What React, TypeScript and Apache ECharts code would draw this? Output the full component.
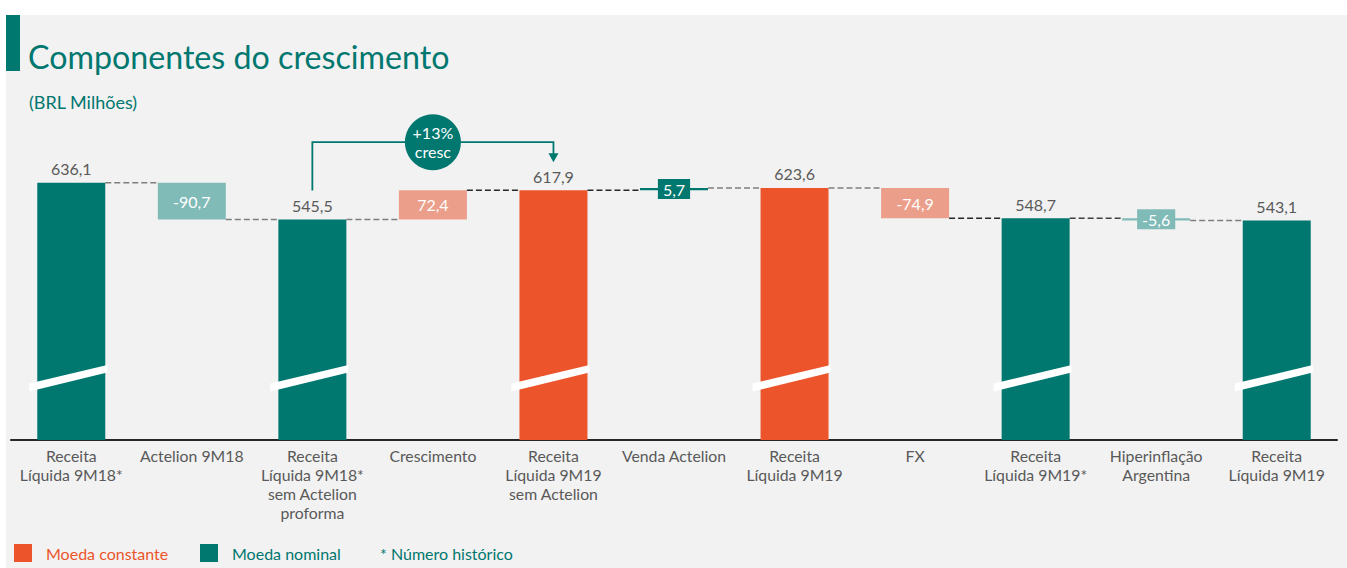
import React, { useEffect, useRef } from "react";
import * as echarts from "echarts";

const TEAL = "#00776F";
const ORANGE = "#EC552B";
const LIGHT_TEAL = "#80BBB7";
const LIGHT_ORANGE = "#EB9E89";
const GRAY_TEXT = "#595959";
const FONT = 'Lato, "Open Sans", sans-serif';

const categories = [
  "Receita\nLíquida 9M18*",
  "Actelion 9M18",
  "Receita\nLíquida 9M18*\nsem Actelion\nproforma",
  "Crescimento",
  "Receita\nLíquida 9M19\nsem Actelion",
  "Venda Actelion",
  "Receita\nLíquida 9M19",
  "FX",
  "Receita\nLíquida 9M19*",
  "Hiperinflação\nArgentina",
  "Receita\nLíquida 9M19",
];
const values = [636.1, -90.7, 545.5, 72.4, 617.9, 5.7, 623.6, -74.9, 548.7, -5.6, 543.1];
const isTotal = [true, false, true, false, true, false, true, false, true, false, true];
const barColors = [TEAL, LIGHT_TEAL, TEAL, LIGHT_ORANGE, ORANGE, TEAL, ORANGE, LIGHT_ORANGE, TEAL, LIGHT_TEAL, TEAL];
const connectorColors = ["#7F7F7F", "#7F7F7F", "#7F7F7F", "#262626", "#262626", "#7F7F7F", "#7F7F7F", "#262626", "#404040", "#7F7F7F"];

const annotationFrom = 2;
const annotationTo = 4;
const annotationText = "+13%\ncresc";

const titleText = "Componentes do crescimento";
const subtitleText = "(BRL Milhões)";
const legendLabels = ["Moeda constante", "Moeda nominal", "* Número histórico"];
const legendColors = [ORANGE, TEAL, TEAL];
const legendSwatch = [true, true, false];

const fmt = (v: number) => v.toFixed(1).replace(".", ",");

// waterfall computation
const bases: number[] = [];
const heights: number[] = [];
const levels: number[] = [];
{
  let level = 0;
  values.forEach((v, i) => {
    if (isTotal[i]) {
      bases.push(0);
      heights.push(v);
      level = v;
    } else {
      const end = level + v;
      bases.push(Math.min(level, end));
      heights.push(Math.abs(v));
      level = end;
    }
    levels.push(level);
  });
}

const BAR_W = 68;

export default function App() {
  const ref = useRef<HTMLDivElement>(null);
  useEffect(() => {
    if (!ref.current) return;
    const chart = echarts.init(ref.current, undefined, { renderer: "svg" });

    const legendGraphics: any[] = [];
    const legendX = [14, 200, 380];
    legendLabels.forEach((l, i) => {
      if (legendSwatch[i]) {
        legendGraphics.push({
          type: "rect",
          shape: { x: legendX[i], y: 544, width: 18, height: 18 },
          style: { fill: legendColors[i] },
        });
      }
      legendGraphics.push({
        type: "text",
        x: legendSwatch[i] ? legendX[i] + 32 : legendX[i],
        y: 553,
        style: {
          text: l,
          fill: legendColors[i],
          fontSize: 16,
          fontFamily: FONT,
          verticalAlign: "middle",
        },
      });
    });

    const option: any = {
      animation: false,
      textStyle: { fontFamily: FONT },
      grid: { left: 11, right: 10, top: 157, bottom: 128, containLabel: false },
      xAxis: {
        type: "category",
        data: categories,
        axisTick: { show: false },
        axisLine: { lineStyle: { color: "#262626", width: 2 } },
        axisLabel: {
          interval: 0,
          color: GRAY_TEXT,
          fontSize: 15.8,
          lineHeight: 19,
          margin: 6,
          fontFamily: FONT,
        },
      },
      yAxis: {
        type: "value",
        min: 0,
        max: 700,
        show: false,
        splitLine: { show: false },
      },
      graphic: [
        {
          type: "rect",
          z: -10,
          shape: { x: 6, y: 15, width: 1341, height: 553 },
          style: { fill: "#F2F2F2" },
        },
        {
          type: "rect",
          shape: { x: 6, y: 15, width: 14, height: 56 },
          style: { fill: TEAL },
        },
        {
          type: "text",
          x: 28,
          y: 56,
          style: {
            text: titleText,
            fill: TEAL,
            fontSize: 32.2,
            fontFamily: FONT,
            verticalAlign: "middle",
          },
        },
        {
          type: "text",
          x: 29,
          y: 102,
          style: {
            text: subtitleText,
            fill: TEAL,
            fontSize: 18,
            fontFamily: FONT,
            verticalAlign: "middle",
          },
        },
        ...legendGraphics,
      ],
      series: [
        {
          type: "bar",
          stack: "w",
          barWidth: BAR_W,
          silent: true,
          itemStyle: { color: "transparent" },
          data: bases,
        },
        {
          type: "bar",
          stack: "w",
          barWidth: BAR_W,
          silent: true,
          data: heights.map((h, i) => ({
            value: h,
            itemStyle: { color: barColors[i] },
            label: isTotal[i]
              ? {
                  show: true,
                  position: "top",
                  distance: 6,
                  color: GRAY_TEXT,
                  fontSize: 16,
                  fontFamily: FONT,
                }
              : {
                  show: true,
                  position: "inside",
                  color: "#fff",
                  fontSize: 16,
                  fontFamily: FONT,
                  backgroundColor: Math.abs(values[i]) < 10 ? barColors[i] : "transparent",
                  padding: Math.abs(values[i]) < 10 ? [2, 5] : 0,
                },
          })),
          label: {
            formatter: (p: any) => fmt(values[p.dataIndex]),
          },
        },
        {
          type: "custom",
          silent: true,
          z: 3,
          data: levels.slice(0, -1).map((l, i) => [i, l]),
          renderItem: (params: any, api: any) => {
            const i = api.value(0);
            const l = api.value(1);
            const p1 = api.coord([i, l]);
            const p2 = api.coord([i + 1, l]);
            const half = BAR_W / 2;
            return {
              type: "line",
              shape: { x1: p1[0] + half, y1: p1[1], x2: p2[0] - half, y2: p2[1] },
              style: { stroke: connectorColors[i], lineWidth: 1.5, lineDash: [6, 3] },
            };
          },
        },
        {
          type: "custom",
          silent: true,
          z: 4,
          data: values.map((v, i) => [i, v]).filter((d, i) => isTotal[i]),
          renderItem: (params: any, api: any) => {
            const i = api.value(0);
            const b = api.coord([i, 0]);
            const x = b[0];
            const y = b[1];
            return {
              type: "polygon",
              shape: {
                points: [
                  [x - 42, y - 56.5],
                  [x + 36, y - 75],
                  [x + 36, y - 67.5],
                  [x - 42, y - 48.5],
                ],
              },
              style: { fill: "#FFFFFF" },
            };
          },
        },
        {
          type: "custom",
          silent: true,
          z: 5,
          data: [[annotationFrom, values[annotationFrom]]],
          renderItem: (params: any, api: any) => {
            const a = api.coord([annotationFrom, values[annotationFrom]]);
            const b = api.coord([annotationTo, values[annotationTo]]);
            const topY = Math.min(a[1], b[1]) - 48;
            const leftBottom = a[1] - 29;
            const tip = b[1] - 28;
            const cx = (a[0] + b[0]) / 2;
            return {
              type: "group",
              children: [
                {
                  type: "polyline",
                  shape: {
                    points: [
                      [a[0], leftBottom],
                      [a[0], topY],
                      [b[0], topY],
                      [b[0], tip - 8],
                    ],
                  },
                  style: { stroke: TEAL, lineWidth: 1.8, fill: "none" },
                },
                {
                  type: "polygon",
                  shape: {
                    points: [
                      [b[0] - 5, tip - 9],
                      [b[0] + 5, tip - 9],
                      [b[0], tip],
                    ],
                  },
                  style: { fill: TEAL },
                },
                {
                  type: "circle",
                  shape: { cx, cy: topY, r: 28 },
                  style: { fill: TEAL },
                },
                {
                  type: "text",
                  x: cx,
                  y: topY,
                  style: {
                    text: annotationText,
                    fill: "#FFFFFF",
                    fontSize: 16,
                    fontFamily: FONT,
                    lineHeight: 19,
                    align: "center",
                    verticalAlign: "middle",
                  },
                },
              ],
            };
          },
        },
      ],
    };
    chart.setOption(option);
    return () => chart.dispose();
  }, []);

  return (
    <div
      ref={ref}
      style={{ position: "fixed", left: 0, top: 0, width: 1347, height: 568, background: "#FFFFFF" }}
    />
  );
}
